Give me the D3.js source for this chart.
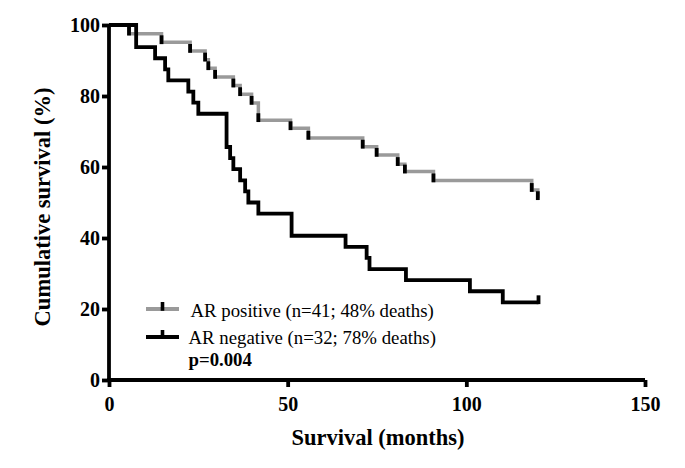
<!DOCTYPE html>
<html><head><meta charset="utf-8">
<script src="https://cdn.jsdelivr.net/npm/d3@7"></script>
<style>html,body{margin:0;padding:0;background:#fff;}svg{display:block;}</style>
</head><body>
<svg id="chart" width="685" height="468"></svg>
<script>
// AR negative (black) Kaplan-Meier steps
const negTimes = [0, 7.6, 12.9, 15.7, 16.6, 22.2, 23.6, 25.0, 32.9, 33.9, 34.8, 36.7, 38.1, 39.0, 41.8, 51.1, 66.2, 72.1, 72.9, 83.1, 101.0, 110.2, 120.2];
const negSurv  = [100, 93.75, 90.63, 87.5, 84.38, 81.25, 78.13, 75.0, 65.63, 62.5, 59.38, 56.25, 53.13, 50.0, 46.88, 40.63, 37.5, 34.38, 31.25, 28.13, 25.0, 21.88, 21.88];
const negCensorT = [120.2];
const negCensorS = [21.88];
// AR positive (gray) Kaplan-Meier steps
const posTimes = [0, 5.6, 14.7, 22.7, 26.9, 27.8, 29.7, 34.8, 36.7, 39.9, 41.8, 50.8, 55.8, 71.0, 74.9, 80.8, 82.8, 90.8, 118.3, 120.0];
const posSurv  = [100, 97.56, 95.12, 92.68, 90.24, 87.8, 85.37, 82.93, 80.49, 78.05, 73.17, 70.9, 68.2, 65.7, 63.4, 60.8, 58.7, 56.2, 53.5, 51.2];
const posCensorT = [5.6, 14.7, 22.7, 26.9, 27.8, 29.7, 34.8, 36.7, 39.9, 41.8, 50.8, 55.8, 71.0, 74.9, 80.8, 82.8, 90.8, 118.3, 120.0];
const posCensorS = [97.56, 95.12, 92.68, 90.24, 87.8, 85.37, 82.93, 80.49, 78.05, 73.17, 70.9, 68.2, 65.7, 63.4, 60.8, 58.7, 56.2, 53.5, 51.2];
// axes
const xTicks = [0, 50, 100, 150];
const yTicks = [0, 20, 40, 60, 80, 100];
const xTitle = "Survival (months)";
const yTitle = "Cumulative survival (%)";
const legendLabels = ["AR positive (n=41; 48% deaths)", "AR negative (n=32; 78% deaths)"];
const pText = "p=0.004";

const GRAY = "#9a9a9a";
const FONT = "'Liberation Serif','Times New Roman',Times,serif";
const svg = d3.select("#chart");
const x = d3.scaleLinear().domain([0, 150]).range([109, 645]);
const y = d3.scaleLinear().domain([0, 100]).range([380, 25]);

// curves
const line = d3.line().x(d => x(d[0])).y(d => y(d[1])).curve(d3.curveStepAfter);
const posData = posTimes.map((t, i) => [t, posSurv[i]]);
const negData = negTimes.map((t, i) => [t, negSurv[i]]);
svg.append("path").attr("d", line(posData)).attr("fill", "none")
  .attr("stroke", GRAY).attr("stroke-width", 3.5).attr("stroke-linejoin", "miter");
svg.append("path").attr("d", line(negData)).attr("fill", "none")
  .attr("stroke", "#000").attr("stroke-width", 3.8).attr("stroke-linejoin", "miter");

// censor ticks
function ticks(ts, ss, w) {
  svg.append("g").selectAll("line").data(ts.map((t, i) => [t, ss[i]])).join("line")
    .attr("x1", d => x(d[0])).attr("x2", d => x(d[0]))
    .attr("y1", d => y(d[1]) + 1.8).attr("y2", d => y(d[1]) - 7)
    .attr("stroke", "#000").attr("stroke-width", w);
}
ticks(posCensorT, posCensorS, 3.8);
ticks(negCensorT, negCensorS, 3.8);

// axes
const yAxis = d3.axisLeft(y).tickValues(yTicks).tickSize(7).tickSizeOuter(0).tickPadding(2);
const xAxis = d3.axisBottom(x).tickValues(xTicks).tickSize(7).tickSizeOuter(0).tickPadding(10);
const gy = svg.append("g").attr("transform", `translate(${x(0)},0)`).call(yAxis);
const gx = svg.append("g").attr("transform", `translate(0,${y(0)})`).call(xAxis);
[gx, gy].forEach(g => {
  g.select(".domain").attr("stroke", "#000").attr("stroke-width", 3.8);
  g.selectAll(".tick line").attr("stroke", "#000").attr("stroke-width", 3.8);
  g.selectAll(".tick text").attr("font-family", FONT).attr("font-weight", "bold")
    .attr("font-size", 20).attr("fill", "#000");
});
gy.select(".domain").attr("d", `M0,${y(100)}V${y(0) + 1.9}`);
gx.select(".domain").attr("d", `M${x(0) - 1.9},0H${x(150)}`);

// titles
svg.append("text").attr("x", 378).attr("y", 445).attr("text-anchor", "middle")
  .attr("font-family", FONT).attr("font-weight", "bold").attr("font-size", 22.5).text(xTitle);
svg.append("text").attr("transform", "translate(50,207) rotate(-90)").attr("text-anchor", "middle")
  .attr("font-family", FONT).attr("font-weight", "bold").attr("font-size", 22.5).text(yTitle);

// legend
const leg = [{c: GRAY, y: 309, ty: 316.5}, {c: "#000", y: 337, ty: 343.5}];
leg.forEach((l, i) => {
  svg.append("line").attr("x1", 146).attr("x2", 179).attr("y1", l.y).attr("y2", l.y)
    .attr("stroke", l.c).attr("stroke-width", 3.8);
  svg.append("line").attr("x1", 162.5).attr("x2", 162.5).attr("y1", l.y + 1.8).attr("y2", l.y - 7)
    .attr("stroke", "#000").attr("stroke-width", 3.6);
  svg.append("text").attr("x", i === 0 ? 190.5 : 188.5).attr("y", l.ty)
    .attr("font-family", FONT).attr("font-size", 18.8).attr("fill", "#000").text(legendLabels[i]);
});
svg.append("text").attr("x", 188.5).attr("y", 366).attr("font-family", FONT)
  .attr("font-weight", "bold").attr("font-size", 18.8).text(pText);
</script>
</body></html>
